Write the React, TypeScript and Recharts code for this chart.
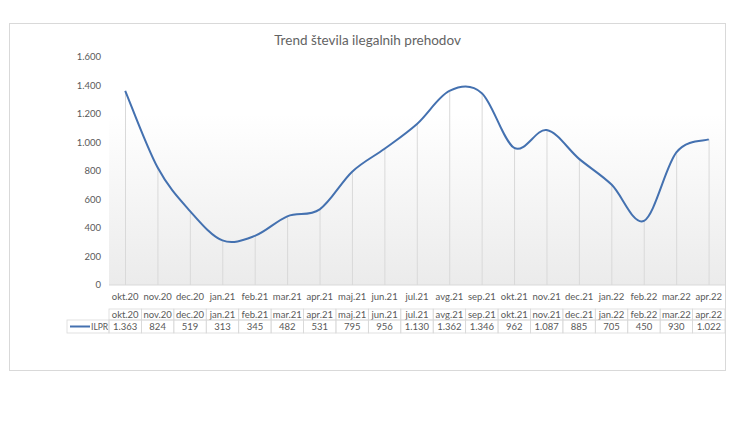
import React from 'react';
import { Bar, CartesianGrid, ComposedChart, Line, XAxis, YAxis } from 'recharts';

const months = [
    'okt.20', 'nov.20', 'dec.20', 'jan.21', 'feb.21', 'mar.21', 'apr.21', 'maj.21', 'jun.21', 'jul.21',
    'avg.21', 'sep.21', 'okt.21', 'nov.21', 'dec.21', 'jan.22', 'feb.22', 'mar.22', 'apr.22',
];
const ilpr = [1363, 824, 519, 313, 345, 482, 531, 795, 956, 1130, 1362, 1346, 962, 1087, 885, 705, 450, 930, 1022];
const yTicks = [0, 200, 400, 600, 800, 1000, 1200, 1400, 1600];

const data = months.map((m, i) => ({ month: m, ILPR: ilpr[i] }));

const W = 736;
const H = 427;
const Y_AXIS_W = 109;
const RIGHT = 11;
const BAND = (W - Y_AXIS_W - RIGHT) / months.length;
const TEXT = '#595959';
const GRID = '#d9d9d9';
const BLUE = '#4471b0';
const FONT = 'Lato, "Open Sans", sans-serif';
const FS = 9.5;

const fmt = (v: number) => String(v).replace(/\B(?=(\d{3})+(?!\d))/g, '.');

// Excel-like smoothing (uniform Catmull-Rom as cubic bezier)
const excelCurve = (context: any) => {
    let pts: number[][] = [];
    return {
        areaStart() {},
        areaEnd() {},
        lineStart() {
            pts = [];
        },
        point(x: number, y: number) {
            pts.push([+x, +y]);
        },
        lineEnd() {
            if (!pts.length) return;
            context.moveTo(pts[0][0], pts[0][1]);
            for (let i = 0; i < pts.length - 1; i++) {
                const p0 = pts[i - 1] || pts[i];
                const p1 = pts[i];
                const p2 = pts[i + 1];
                const p3 = pts[i + 2] || pts[i + 1];
                context.bezierCurveTo(
                    p1[0] + (p2[0] - p0[0]) / 6,
                    p1[1] + (p2[1] - p0[1]) / 6,
                    p2[0] - (p3[0] - p1[0]) / 6,
                    p2[1] - (p3[1] - p1[1]) / 6,
                    p2[0],
                    p2[1]
                );
            }
        },
    };
};

const MonthTick = ({ x, y, payload }: any) => (
    <text x={x} y={y + 11} textAnchor="middle" dominantBaseline="central" fill={TEXT} fontSize={FS}>
        {payload.value}
    </text>
);

const HeaderTick = ({ x, y, payload }: any) => (
    <g>
        <rect x={x - BAND / 2} y={y} width={BAND} height={11} fill="none" stroke={GRID} strokeWidth={0.8} />
        <text x={x} y={y + 5.5} textAnchor="middle" dominantBaseline="central" fill={TEXT} fontSize={FS}>
            {payload.value}
        </text>
    </g>
);

const ValueTick = ({ x, y, index }: any) => (
    <g>
        {index === 0 && (
            <g>
                <rect x={67} y={y} width={x - BAND / 2 - 67} height={13} fill="none" stroke={GRID} strokeWidth={0.8} />
                <line x1={70} x2={90} y1={y + 6.5} y2={y + 6.5} stroke={BLUE} strokeWidth={2} />
                <text x={91} y={y + 6.5} dominantBaseline="central" fill={TEXT} fontSize={8.5}>
                    ILPR
                </text>
            </g>
        )}
        <rect x={x - BAND / 2} y={y} width={BAND} height={13} fill="none" stroke={GRID} strokeWidth={0.8} />
        <text x={x} y={y + 6.5} textAnchor="middle" dominantBaseline="central" fill={TEXT} fontSize={FS}>
            {fmt(ilpr[index])}
        </text>
    </g>
);

export default function App() {
    return (
        <div style={{ position: 'absolute', left: 0, top: 0, width: W, height: H, background: '#fff', fontFamily: FONT }}>
            <div
                style={{
                    position: 'absolute',
                    left: 9,
                    top: 23,
                    width: 715,
                    height: 346,
                    border: '1px solid #d9d9d9',
                }}
            />
            <div
                style={{
                    position: 'absolute',
                    left: 9,
                    width: 717,
                    top: 32,
                    textAlign: 'center',
                    fontSize: 13.5,
                    color: '#636363',
                }}
            >
                Trend števila ilegalnih prehodov
            </div>
            <div style={{ position: 'absolute', left: 0, top: 0 }}>
                <ComposedChart
                    width={W}
                    height={H}
                    data={data}
                    margin={{ top: 57, right: RIGHT, bottom: 94, left: 0 }}
                    style={{ fontFamily: FONT }}
                >
                    <defs>
                        <linearGradient id="plotBg" x1="0" y1="0" x2="0" y2="1">
                            <stop offset="0%" stopColor="#ffffff" />
                            <stop offset="25%" stopColor="#ffffff" />
                            <stop offset="100%" stopColor="#ebebeb" />
                        </linearGradient>
                    </defs>
                    <CartesianGrid fill="url(#plotBg)" horizontal={false} vertical={false} stroke="none" />
                    <YAxis
                        domain={[0, 1600]}
                        ticks={yTicks}
                        width={Y_AXIS_W}
                        axisLine={false}
                        tickLine={false}
                        tickFormatter={fmt}
                        tick={{ fill: TEXT, fontSize: FS }}
                    />
                    <XAxis
                        dataKey="month"
                        interval={0}
                        height={24}
                        tickSize={0}
                        tickMargin={0}
                        tickLine={false}
                        axisLine={{ stroke: GRID }}
                        tick={<MonthTick />}
                    />
                    <XAxis
                        xAxisId="hdr"
                        dataKey="month"
                        interval={0}
                        height={11}
                        tickSize={0}
                        tickMargin={0}
                        tickLine={false}
                        axisLine={false}
                        tick={<HeaderTick />}
                    />
                    <XAxis
                        xAxisId="val"
                        dataKey="month"
                        interval={0}
                        height={13}
                        tickSize={0}
                        tickMargin={0}
                        tickLine={false}
                        axisLine={false}
                        tick={<ValueTick />}
                    />
                    <Bar dataKey="ILPR" barSize={1} fill={GRID} isAnimationActive={false} />
                    <Line
                        dataKey="ILPR"
                        type={excelCurve as any}
                        stroke={BLUE}
                        strokeWidth={2}
                        dot={false}
                        activeDot={false}
                        isAnimationActive={false}
                    />
                </ComposedChart>
            </div>
        </div>
    );
}
